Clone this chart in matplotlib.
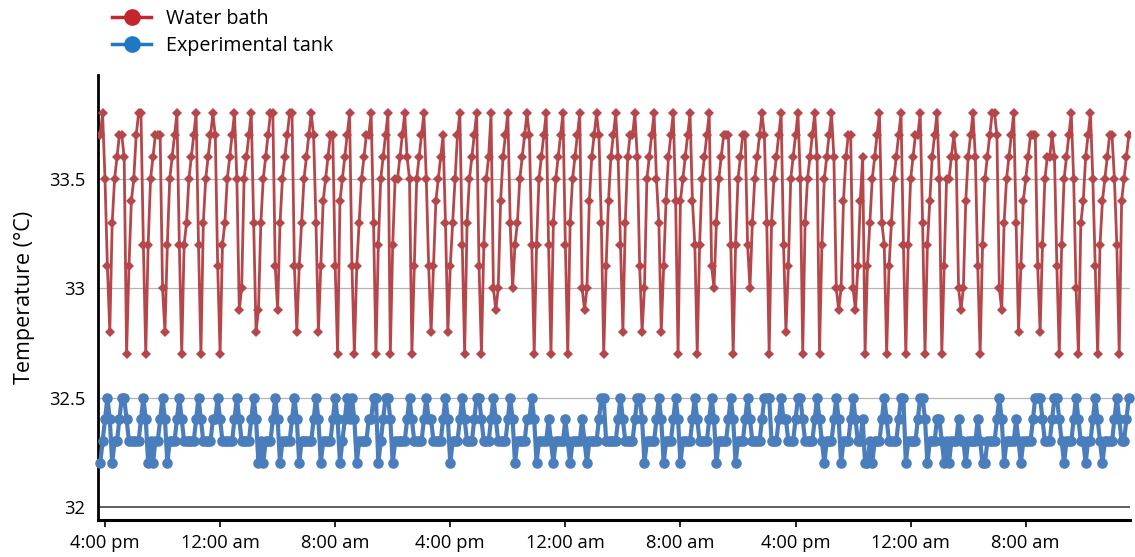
import matplotlib
matplotlib.use("Agg")
import matplotlib.pyplot as plt
from matplotlib.lines import Line2D
import numpy as np

# ---------------- data (10-minute samples, start 15:40 day 1) ----------------
sample_minutes = 10
start_offset_min = -20          # minutes relative to first 4:00 pm tick

bath_start = [33.7, 33.8, 33.5, 33.1]
bath_cycles = [
    [32.8, 33.3, 33.5, 33.6, 33.7, 33.7, 33.6],
    [32.7, 33.1, 33.4, 33.5, 33.7, 33.8, 33.8, 33.2],
    [32.7, 33.2, 33.5, 33.6, 33.7, 33.7, 33.7, 33.0],
    [32.8, 33.2, 33.5, 33.6, 33.7, 33.8, 33.2],
    [32.7, 33.2, 33.3, 33.5, 33.6, 33.7, 33.8, 33.2],
    [32.7, 33.3, 33.5, 33.6, 33.7, 33.8, 33.7, 33.1],
    [32.7, 33.2, 33.3, 33.5, 33.6, 33.7, 33.8, 33.5],
    [32.9, 33.0, 33.5, 33.6, 33.7, 33.8, 33.3],
    [32.8, 32.9, 33.3, 33.5, 33.6, 33.7, 33.8, 33.8, 33.1],
    [32.9, 33.3, 33.5, 33.6, 33.7, 33.8, 33.8, 33.1],
    [32.8, 33.1, 33.3, 33.5, 33.6, 33.7, 33.8, 33.7, 33.3],
    [32.8, 33.1, 33.4, 33.5, 33.6, 33.7, 33.7, 33.1],
    [32.7, 33.4, 33.5, 33.6, 33.7, 33.8, 33.1],
    [32.7, 33.1, 33.3, 33.5, 33.6, 33.7, 33.7, 33.8, 33.3],
    [32.7, 33.2, 33.5, 33.6, 33.7, 33.8],
    [32.7, 33.2, 33.5, 33.5, 33.6, 33.7, 33.8, 33.6, 33.5],
    [32.7, 33.1, 33.5, 33.6, 33.7, 33.8, 33.5, 33.1],
    [32.8, 33.1, 33.4, 33.5, 33.6, 33.7, 33.3],
    [32.8, 33.1, 33.3, 33.5, 33.7, 33.8, 33.2],
    [32.7, 33.3, 33.5, 33.6, 33.7, 33.8, 33.1],
    [32.7, 33.2, 33.5, 33.6, 33.8, 33.0],
    [32.9, 33.0, 33.4, 33.6, 33.7, 33.8, 33.3],
    [33.0, 33.2, 33.3, 33.5, 33.6, 33.7, 33.8, 33.7, 33.2],
    [32.7, 33.2, 33.5, 33.6, 33.7, 33.8, 33.2],
    [32.7, 33.3, 33.5, 33.6, 33.7, 33.8, 33.2],
    [32.7, 33.3, 33.5, 33.6, 33.7, 33.8, 33.0],
    [32.9, 33.0, 33.4, 33.6, 33.7, 33.8, 33.7, 33.3],
    [32.7, 33.1, 33.4, 33.6, 33.7, 33.8, 33.6, 33.2],
    [32.8, 33.3, 33.6, 33.7, 33.7, 33.8, 33.6, 33.1],
    [32.8, 33.0, 33.5, 33.6, 33.7, 33.8, 33.5, 33.3],
    [32.8, 33.1, 33.4, 33.6, 33.7, 33.8, 33.4],
    [32.7, 33.4, 33.5, 33.6, 33.7, 33.8, 33.4, 33.2],
    [32.7, 33.2, 33.5, 33.6, 33.7, 33.8, 33.1],
    [33.0, 33.3, 33.5, 33.6, 33.7, 33.7, 33.7, 33.2],
    [32.7, 33.2, 33.5, 33.6, 33.7, 33.7, 33.2],
    [33.0, 33.3, 33.5, 33.6, 33.7, 33.8, 33.7, 33.3],
    [32.7, 33.3, 33.5, 33.6, 33.7, 33.8, 33.2],
    [32.8, 33.1, 33.5, 33.6, 33.7, 33.8, 33.5],
    [32.7, 33.3, 33.5, 33.6, 33.7, 33.8, 33.6],
    [32.7, 33.2, 33.5, 33.6, 33.7, 33.8, 33.6, 33.0],
    [32.9, 33.0, 33.4, 33.6, 33.7, 33.7, 33.0],
    [32.9, 33.1, 33.4, 33.6],
    [32.7, 33.1, 33.3, 33.5, 33.6, 33.7, 33.8, 33.3, 33.2],
    [32.7, 33.1, 33.3, 33.5, 33.6, 33.7, 33.8, 33.2],
    [32.7, 33.2, 33.5, 33.6, 33.7, 33.7, 33.8, 33.3],
    [32.7, 33.2, 33.4, 33.6, 33.7, 33.8, 33.5],
    [32.7, 33.1, 33.5, 33.5, 33.6, 33.7, 33.6, 33.0],
    [32.9, 33.0, 33.4, 33.6, 33.7, 33.8, 33.6, 33.1],
    [32.7, 33.2, 33.5, 33.6, 33.7, 33.8, 33.8, 33.7, 33.0],
    [32.9, 33.3, 33.5, 33.6, 33.7, 33.8, 33.3],
    [32.8, 33.1, 33.4, 33.5, 33.6, 33.7, 33.7, 33.7, 33.1],
    [32.8, 33.2, 33.5, 33.6, 33.6, 33.7, 33.6, 33.1],
    [32.7, 33.2, 33.5, 33.6, 33.7, 33.8, 33.5, 33.0],
    [32.7, 33.3, 33.4, 33.6, 33.7, 33.8, 33.5, 33.1],
    [32.7, 33.2, 33.4, 33.5, 33.6, 33.7, 33.7, 33.5, 33.2],
    [32.7, 33.4, 33.5, 33.6, 33.7],
]

tank_start = [32.2, 32.3, 32.4, 32.5]
tank_cycles = [
    [32.4, 32.2, 32.3, 32.3, 32.4, 32.5, 32.5],
    [32.4, 32.3, 32.3, 32.3, 32.3, 32.3, 32.4, 32.5],
    [32.4, 32.2, 32.3, 32.2, 32.3, 32.3, 32.4, 32.5],
    [32.4, 32.2, 32.3, 32.3, 32.3, 32.4, 32.5],
    [32.4, 32.3, 32.3, 32.3, 32.3, 32.3, 32.4, 32.5],
    [32.4, 32.3, 32.3, 32.3, 32.3, 32.4, 32.4, 32.5],
    [32.4, 32.3, 32.3, 32.3, 32.3, 32.3, 32.4, 32.5],
    [32.4, 32.3, 32.3, 32.3, 32.3, 32.4, 32.5],
    [32.4, 32.2, 32.3, 32.2, 32.3, 32.3, 32.3, 32.4, 32.5],
    [32.4, 32.2, 32.3, 32.3, 32.3, 32.3, 32.4, 32.5],
    [32.4, 32.2, 32.3, 32.3, 32.3, 32.3, 32.3, 32.4, 32.5],
    [32.4, 32.2, 32.3, 32.3, 32.3, 32.3, 32.4, 32.5],
    [32.4, 32.2, 32.3, 32.4, 32.5, 32.4, 32.5],
    [32.4, 32.2, 32.3, 32.3, 32.3, 32.3, 32.4, 32.4, 32.5],
    [32.5, 32.2, 32.3, 32.4, 32.5, 32.5],
    [32.4, 32.2, 32.3, 32.3, 32.3, 32.3, 32.3, 32.4, 32.5],
    [32.4, 32.3, 32.3, 32.3, 32.3, 32.4, 32.5, 32.4],
    [32.4, 32.3, 32.3, 32.3, 32.3, 32.4, 32.5],
    [32.4, 32.2, 32.3, 32.3, 32.3, 32.4, 32.5],
    [32.4, 32.3, 32.3, 32.3, 32.4, 32.5, 32.5],
    [32.4, 32.3, 32.3, 32.3, 32.4, 32.5],
    [32.4, 32.3, 32.3, 32.3, 32.3, 32.4, 32.5],
    [32.4, 32.2, 32.3, 32.3, 32.3, 32.3, 32.4, 32.4, 32.5],
    [32.4, 32.2, 32.3, 32.3, 32.3, 32.3, 32.4],
    [32.3, 32.2, 32.3, 32.3, 32.3, 32.3, 32.4],
    [32.3, 32.2, 32.3, 32.3, 32.3, 32.3, 32.4],
    [32.3, 32.2, 32.3, 32.3, 32.3, 32.3, 32.4, 32.5],
    [32.5, 32.3, 32.3, 32.3, 32.3, 32.3, 32.4, 32.5],
    [32.4, 32.3, 32.3, 32.3, 32.3, 32.4, 32.5, 32.5],
    [32.4, 32.2, 32.3, 32.3, 32.3, 32.3, 32.4, 32.5],
    [32.4, 32.2, 32.3, 32.3, 32.3, 32.4, 32.5],
    [32.4, 32.2, 32.3, 32.3, 32.3, 32.3, 32.4, 32.5],
    [32.4, 32.3, 32.3, 32.3, 32.3, 32.4, 32.5],
    [32.4, 32.2, 32.3, 32.3, 32.3, 32.3, 32.4, 32.5],
    [32.4, 32.2, 32.3, 32.3, 32.3, 32.4, 32.5],
    [32.4, 32.3, 32.3, 32.3, 32.3, 32.4, 32.5, 32.5],
    [32.5, 32.3, 32.3, 32.3, 32.4, 32.5, 32.4],
    [32.4, 32.3, 32.3, 32.3, 32.4, 32.5, 32.5],
    [32.4, 32.3, 32.3, 32.3, 32.3, 32.4, 32.5],
    [32.4, 32.3, 32.2, 32.3, 32.3, 32.3, 32.4, 32.5],
    [32.4, 32.2, 32.3, 32.3, 32.3, 32.4, 32.5],
    [32.4, 32.3, 32.3, 32.4],
    [32.2, 32.2, 32.3, 32.2, 32.3, 32.3, 32.3, 32.4, 32.5],
    [32.4, 32.3, 32.3, 32.3, 32.3, 32.4, 32.5, 32.5],
    [32.2, 32.3, 32.3, 32.3, 32.3, 32.4, 32.5, 32.5],
    [32.4, 32.2, 32.3, 32.3, 32.3, 32.4, 32.4],
    [32.3, 32.2, 32.3, 32.2, 32.3, 32.3, 32.3, 32.4],
    [32.3, 32.3, 32.2, 32.3, 32.3, 32.3, 32.3, 32.4],
    [32.3, 32.2, 32.2, 32.3, 32.3, 32.3, 32.3, 32.4, 32.5],
    [32.4, 32.2, 32.3, 32.3, 32.3, 32.3, 32.4],
    [32.3, 32.2, 32.3, 32.3, 32.3, 32.3, 32.4, 32.5, 32.5],
    [32.5, 32.4, 32.3, 32.3, 32.3, 32.4, 32.5, 32.5],
    [32.4, 32.3, 32.2, 32.3, 32.3, 32.3, 32.4, 32.5],
    [32.4, 32.3, 32.3, 32.2, 32.3, 32.3, 32.4, 32.5],
    [32.4, 32.3, 32.2, 32.3, 32.3, 32.3, 32.3, 32.4, 32.5],
    [32.4, 32.3, 32.3, 32.4, 32.5],
]

tick_hours = [0, 8, 16, 24, 32, 40, 48, 56, 64]
tick_labels = ["4:00 pm", "12:00 am", "8:00 am", "4:00 pm", "12:00 am",
               "8:00 am", "4:00 pm", "12:00 am", "8:00 am"]
y_ticks = [32, 32.5, 33, 33.5]
y_tick_labels = ["32", "32.5", "33", "33.5"]
series_names = ["Water bath", "Experimental tank"]

# ---------------- assemble ----------------
bath = list(bath_start)
for c in bath_cycles:
    bath.extend(c)
tank = list(tank_start)
for c in tank_cycles:
    tank.extend(c)
n = min(len(bath), len(tank))
bath = np.array(bath[:n])
tank = np.array(tank[:n])
hours = (start_offset_min + np.arange(n) * sample_minutes) / 60.0

# ---------------- styling ----------------
plt.rcParams['font.family'] = ['Open Sans', 'DejaVu Sans']
red = "#b5474b"
blue = "#4a7dbb"
red_leg = "#c3262f"
blue_leg = "#1f78c6"

fig = plt.figure(figsize=(11.35, 5.57), dpi=100)
ax = fig.add_axes([0.0863, 0.0664, 0.9093, 0.799])

for yv in [32.5, 33, 33.5]:
    ax.axhline(yv, color="#b4b4b4", lw=0.9, zorder=1)
ax.axhline(32, color="#333333", lw=1.1, zorder=1)

ax.plot(hours, bath, color=red, lw=2.0, marker="D", ms=4.6,
        markeredgewidth=0, zorder=3)
ax.plot(hours, tank, color=blue, lw=3.0, marker="o", ms=7.6,
        markeredgewidth=0, zorder=3, clip_on=False)

ax.set_xlim(-0.49, 71.25)
ax.set_ylim(31.94, 33.976)

ax.set_xticks(tick_hours)
ax.set_xticklabels(tick_labels, fontsize=13.2)
ax.set_yticks(y_ticks)
ax.set_yticklabels(y_tick_labels, fontsize=13.2)
ax.tick_params(axis="x", direction="out", length=5, width=1.2, pad=5,
               colors="black")
ax.tick_params(axis="y", length=0, pad=9)

for s in ["top", "right"]:
    ax.spines[s].set_visible(False)
ax.spines["left"].set_linewidth(2)
ax.spines["bottom"].set_linewidth(2.2)

ax.set_ylabel("Temperature (°C)", fontsize=15.5, labelpad=10)

handles = [
    Line2D([], [], color=red_leg, lw=2.5, marker="o", ms=11),
    Line2D([], [], color=blue_leg, lw=2.5, marker="o", ms=11),
]
fig.legend(handles, series_names, loc="upper left",
           bbox_to_anchor=(0.083, 1.016), frameon=False, fontsize=14.2,
           handlelength=2.0, handletextpad=0.75, labelspacing=0.36)

fig.savefig("out.png", dpi=100)
